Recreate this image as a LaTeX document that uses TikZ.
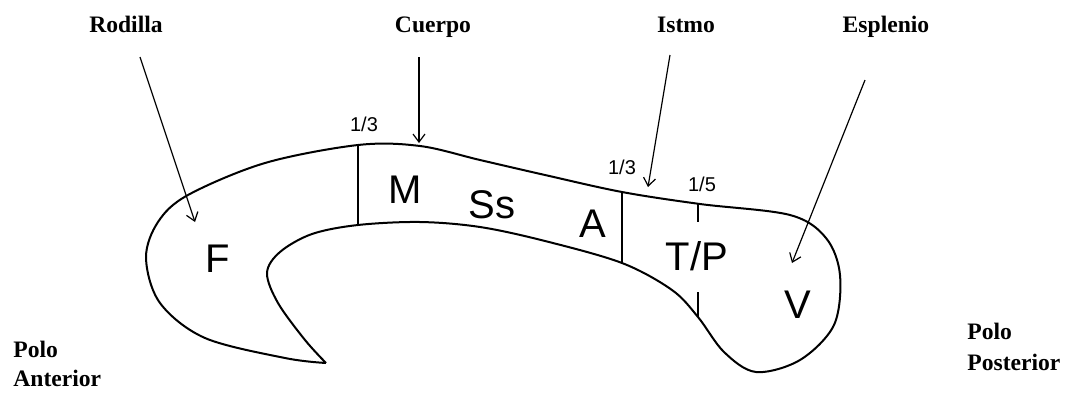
\documentclass[tikz,border=0pt]{standalone}
\usepackage{fontspec}
\setmainfont{Liberation Sans}
\newfontfamily\titlefont{Liberation Serif}
\usetikzlibrary{arrows.meta}

\begin{document}
\begin{tikzpicture}[x=0.5pt,y=-0.5pt]
  \useasboundingbox (0,0) rectangle (1089,392);

  % Define styles for the outline, the pointers and the texts
  \tikzset{
    outline/.style={line width=1pt, line join=round, black},
    divider/.style={line width=1pt, black},
    pointer/.style={line width=0.6pt, black, -{Straight Barb[length=4pt,width=6pt]}},
    title/.style={font=\titlefont\bfseries\fontsize{11.8}{14}\selectfont, anchor=base, inner sep=0pt},
    pole/.style={title, anchor=base west},
    zone/.style={font=\fontsize{20}{24}\selectfont, anchor=base, inner sep=0pt},
    frac/.style={font=\fontsize{10}{12}\selectfont, anchor=base, inner sep=0pt}
  }

  % Outline of the callosum, from the tip of the hook around and back
  \draw[outline] plot[smooth, tension=0.55] coordinates {
    (326,363) (285,358) (205,338) (160,303) (146,258) (158,222)
    (188,195) (265,163) (358,145) (420,146) (480,160) (545,175)
    (622,192) (700,204) (790,215) (826,238) (840,275) (834,325)
    (800,360) (756,372) (724,352) (698,317) (672,290) (622,263)
    (545,241) (480,227) (420,222) (358,225) (312,234) (280,252)
    (267,273) (278,303) (305,340) (326,363)};

  % Dividers between the parts
  \draw[divider] (358,145) -- (358,225);
  \draw[divider] (622,192) -- (622,263);
  \draw[divider] (698,204) -- (698,222);
  \draw[divider] (698,292) -- (698,317);

  % Parts
  \node[zone] (f)  at (218,272) {F};
  \node[zone] (m)  at (405,203) {M};
  \node[zone] (ss) at (492,218) {Ss};
  \node[zone] (a)  at (593,237) {A};
  \node[zone] (tp) at (697,270) {T/P};
  \node[zone] (v)  at (798,318) {V};

  % Fractions along the top
  \node[frac] (q1) at (364,131) {1/3};
  \node[frac] (q2) at (622,174) {1/3};
  \node[frac] (q3) at (702,191) {1/5};

  % Names of the regions
  \node[title] (rodilla)  at (126,32) {Rodilla};
  \node[title] (cuerpo)   at (433,32) {Cuerpo};
  \node[title] (istmo)    at (686,32) {Istmo};
  \node[title] (esplenio) at (886,32) {Esplenio};

  % Poles
  \node[pole] (anterior)  at (13,357) {Polo};
  \node[pole] (anterior2) at (13,386) {Anterior};
  \node[pole] (posterior)  at (967,339) {Polo};
  \node[pole] (posterior2) at (967,370) {Posterior};

  % Pointers from the names into the outline
  \coordinate (rod-a) at (140,57);
  \coordinate (rod-b) at (195,222);
  \coordinate (cue-a) at (419,57);
  \coordinate (cue-b) at (419,143);
  \coordinate (ist-a) at (670,55);
  \coordinate (ist-b) at (648,187);
  \coordinate (esp-a) at (865,80);
  \coordinate (esp-b) at (792,263);

  \draw[pointer] (rod-a) -- (rod-b);
  \draw[pointer] (cue-a) -- (cue-b);
  \draw[pointer] (ist-a) -- (ist-b);
  \draw[pointer] (esp-a) -- (esp-b);

\end{tikzpicture}
\end{document}
